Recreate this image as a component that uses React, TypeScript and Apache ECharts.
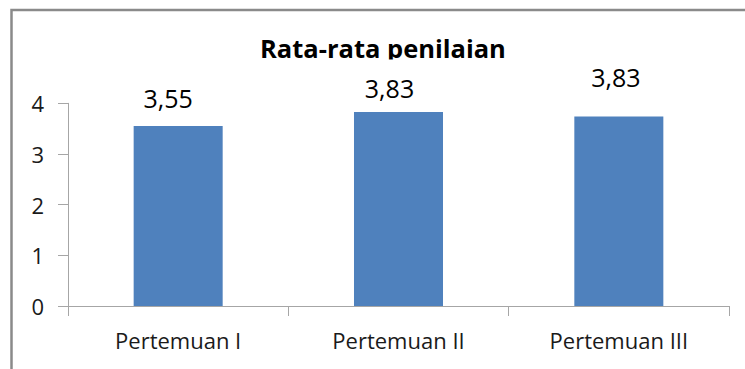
import React, { useEffect, useRef } from "react";
import * as echarts from "echarts";

const titleText = "Rata-rata penilaian";
const categories = ["Pertemuan I", "Pertemuan II", "Pertemuan III"];
const values = [3.55, 3.83, 3.74];
const valueLabels = ["3,55", "3,83", "3,83"];
const labelDistances = [16, 11, 27];
const labelOffsetsX = [-10, -9, -3];

export default function App() {
  const ref = useRef<HTMLDivElement>(null);
  useEffect(() => {
    if (!ref.current) return;
    const chart = echarts.init(ref.current, null, { renderer: "svg" });
    const font = "'Open Sans', 'Liberation Sans', sans-serif";
    chart.setOption({
      animation: false,
      backgroundColor: "#ffffff",
      textStyle: { fontFamily: font },
      title: {
        text: titleText,
        left: 260,
        top: 35,
        padding: 0,
        textStyle: {
          fontFamily: font,
          fontSize: 25.5,
          lineHeight: 26,
          fontWeight: "bold",
          color: "#000000",
        },
      },
      grid: { left: 68, right: 16, top: 103.3, bottom: 63, containLabel: false },
      xAxis: {
        type: "category",
        data: categories,
        axisLine: { show: true, lineStyle: { color: "#a6a6a6", width: 1 } },
        axisTick: { show: true, length: 10, alignWithLabel: false, lineStyle: { color: "#a6a6a6" } },
        axisLabel: { margin: 23, fontSize: 22, lineHeight: 22, color: "#1a1a1a", fontFamily: font },
        splitLine: { show: false },
      },
      yAxis: {
        type: "value",
        min: 0,
        max: 4,
        interval: 1,
        axisLine: { show: true, lineStyle: { color: "#a6a6a6", width: 1 } },
        axisTick: { show: true, length: 10, lineStyle: { color: "#a6a6a6" } },
        axisLabel: { margin: 24, fontSize: 22, lineHeight: 22, color: "#1a1a1a", fontFamily: font },
        splitLine: { show: false },
      },
      series: [
        {
          type: "bar",
          barWidth: "40.4%",
          itemStyle: { color: "#4f81bd" },
          data: values.map((v, i) => ({
            value: v,
            label: {
              show: true,
              position: "top",
              distance: labelDistances[i],
              offset: [labelOffsetsX[i], 0],
              formatter: () => valueLabels[i],
              fontSize: 25,
              lineHeight: 25,
              color: "#000000",
              fontFamily: font,
            },
          })),
        },
      ],
      graphic: [
        {
          type: "rect",
          z: 100,
          shape: { x: 250, y: 59.5, width: 280, height: 6 },
          style: { fill: "#ffffff" },
        },
        {
          type: "rect",
          z: 101,
          shape: { x: 11.5, y: 10, width: 900, height: 600 },
          style: { fill: "none", stroke: "#8a8a8a", lineWidth: 2.5 },
        },
      ],
    });
    return () => chart.dispose();
  }, []);
  return (
    <div
      ref={ref}
      style={{ position: "fixed", left: 0, top: 0, width: 745, height: 369 }}
    />
  );
}
